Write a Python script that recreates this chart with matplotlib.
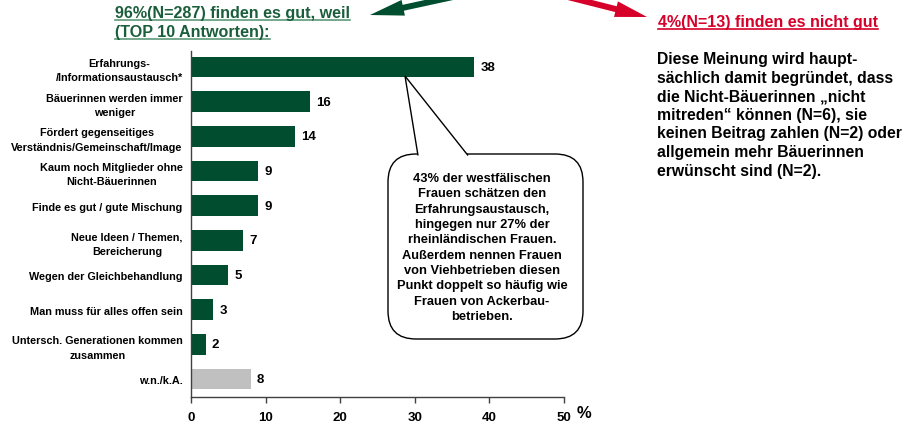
import numpy as np
import matplotlib
matplotlib.use("Agg")
import matplotlib.pyplot as plt
from matplotlib.patches import FancyBboxPatch, Polygon, FancyArrow
from matplotlib.lines import Line2D

plt.rcParams['font.family'] = ['Liberation Sans', 'DejaVu Sans']
plt.rcParams['font.weight'] = 'bold'

# Daten
categories = ['Erfahrungs-\n/Informationsaustausch*',
              'Bäuerinnen werden immer\nweniger',
              'Fördert gegenseitiges\nVerständnis/Gemeinschaft/Image',
              'Kaum noch Mitglieder ohne\nNicht-Bäuerinnen',
              'Finde es gut / gute Mischung',
              'Neue Ideen / Themen,\nBereicherung',
              'Wegen der Gleichbehandlung',
              'Man muss für alles offen sein',
              'Untersch. Generationen kommen\nzusammen',
              'w.n./k.A.']
values = [38, 16, 14, 9, 9, 7, 5, 3, 2, 8]
xticks = [0, 10, 20, 30, 40, 50]

title_good = ['96%(N=287) finden es gut, weil', '(TOP 10 Antworten):']
title_bad = '4%(N=13) finden es nicht gut'
text_bad = ('Diese Meinung wird haupt-\nsächlich damit begründet, dass\n'
            'die Nicht-Bäuerinnen „nicht\nmitreden“ können (N=6), sie\n'
            'keinen Beitrag zahlen (N=2) oder\nallgemein mehr Bäuerinnen\n'
            'erwünscht sind (N=2).')
callout = ('43% der westfälischen\nFrauen schätzen den\nErfahrungsaustausch,\n'
           'hingegen nur 27% der\nrheinländischen Frauen.\nAußerdem nennen Frauen\n'
           'von Viehbetrieben diesen\nPunkt doppelt so häufig wie\n'
           'Frauen von Ackerbau-\nbetrieben.')

green = '#004D2F'
green_t = '#1B5E3B'
red = '#D6002A'
gray = '#C0C0C0'

W, H = 908, 427
fig = plt.figure(figsize=(W / 100, H / 100), dpi=100)

# Balkendiagramm
ax = fig.add_axes([191 / W, 1 - 398 / H, (564 - 191) / W, (398 - 52) / H])
ypos = np.arange(len(values))
colors = [green] * (len(values) - 1) + [gray]
ax.barh(ypos, values, height=0.6, color=colors)
ax.set_xlim(0, 50)
ax.set_ylim(9.52, -0.46)
ax.set_yticks(ypos)
ax.set_yticklabels(categories, fontsize=7.8, ma='center', linespacing=1.55)
ax.set_xticks(xticks)
ax.set_xticklabels([str(t) for t in xticks], fontsize=9.5)
ax.tick_params(axis='y', length=0, pad=6)
ax.tick_params(axis='x', length=4, width=1, pad=6, color='#404040', direction='out')
for s in ['top', 'right']:
    ax.spines[s].set_visible(False)
for s in ['left', 'bottom']:
    ax.spines[s].set_color('#404040')
    ax.spines[s].set_linewidth(1)
for y, v in zip(ypos, values):
    ax.text(v + 0.8, y, str(v), va='center', ha='left', fontsize=9.5)

# Overlay in Pixelkoordinaten
ov = fig.add_axes([0, 0, 1, 1], zorder=5)
ov.set_xlim(0, W)
ov.set_ylim(H, 0)
ov.axis('off')
ov.patch.set_alpha(0)

ov.text(577, 414, '%', fontsize=12, va='center', ha='left')

# Titel
t1 = ov.text(115, 18, title_good[0], fontsize=11.6, color=green_t, va='baseline')
t2 = ov.text(115, 37, title_good[1], fontsize=11.6, color=green_t, va='baseline')
t3 = ov.text(658, 27, title_bad, fontsize=11.5, color=red, va='baseline')
ov.text(657, 52, text_bad, fontsize=11.3, va='top', linespacing=1.3)

# Pfeile
ov.add_patch(FancyArrow(462, -4, -92, 20, width=6, head_width=16, head_length=34,
                        length_includes_head=True, color=green, lw=0))
ov.add_patch(FancyArrow(560, -4, 87, 22, width=6, head_width=16, head_length=32,
                        length_includes_head=True, color=red, lw=0))

# Sprechblase
ov.add_patch(FancyBboxPatch((388, 155), 195, 185, boxstyle='round,pad=0,rounding_size=28',
                            facecolor='white', edgecolor='black', lw=1))
ov.add_patch(Polygon([(418, 156.5), (405, 77), (468, 156.5)], closed=False,
                     facecolor='white', edgecolor='black', lw=1))
ov.text(482, 248, callout, fontsize=9.3, ha='center', va='center', linespacing=1.37)

# Unterstreichungen
fig.canvas.draw()
for t, c in [(t1, '#5E9A7A'), (t2, '#5E9A7A'), (t3, red)]:
    bb = t.get_window_extent()
    ov.add_line(Line2D([bb.x0, bb.x1], [H - bb.y0 - 0.5, H - bb.y0 - 0.5], color=c, lw=1.2))

fig.savefig('out.png', dpi=100)
